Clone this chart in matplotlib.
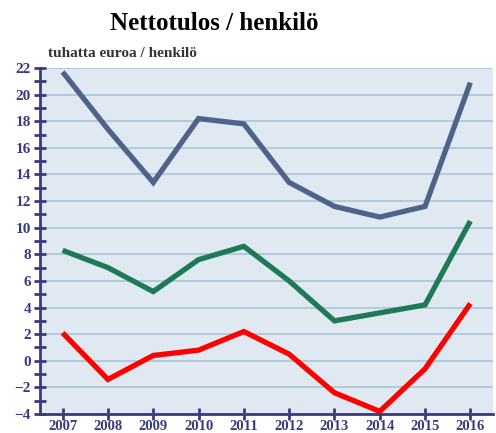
import matplotlib
matplotlib.use("Agg")
import matplotlib.pyplot as plt
from matplotlib.ticker import MultipleLocator

# Nettotulos per henkilö, tuhatta euroa
years = [2007, 2008, 2009, 2010, 2011, 2012, 2013, 2014, 2015, 2016]
series_top = [21.7, 17.4, 13.4, 18.2, 17.8, 13.4, 11.6, 10.8, 11.6, 20.9]
series_mid = [8.3, 7.0, 5.2, 7.6, 8.6, 6.0, 3.0, 3.6, 4.2, 10.5]
series_low = [2.1, -1.4, 0.4, 0.8, 2.2, 0.5, -2.4, -3.8, -0.6, 4.3]

navy = "#3a3a80"

plt.rcParams["font.family"] = ["Liberation Serif", "DejaVu Serif"]

fig = plt.figure(figsize=(4.96, 4.33), dpi=100)
ax = fig.add_axes([0.0806, 0.0438, 0.9134, 0.7992])
ax.set_facecolor("#e0e9f1")

for vals, col in [(series_top, "#4d6389"), (series_mid, "#1d7a55"), (series_low, "#ff0000")]:
    ax.plot(years, vals, color=col, linewidth=3.8, solid_capstyle="butt",
            solid_joinstyle="miter", zorder=3)

ax.set_xlim(2006.5, 2016.5)
ax.set_ylim(-4, 22)
ax.set_xticks(years)
ax.yaxis.set_major_locator(MultipleLocator(2))
ax.yaxis.set_minor_locator(MultipleLocator(1))
ax.grid(axis="y", which="major", color="#a9c5d6", linewidth=1.2, zorder=1)

for s in ["top", "right"]:
    ax.spines[s].set_visible(False)
for s in ["left", "bottom"]:
    ax.spines[s].set_color(navy)
    ax.spines[s].set_linewidth(2)
    ax.spines[s].set_zorder(4)

ax.tick_params(axis="both", which="both", direction="inout", color=navy, width=2,
               labelcolor=navy, labelsize=11)
ax.tick_params(axis="y", which="both", length=9, pad=2)
ax.tick_params(axis="x", which="major", length=9, pad=-0.5, labelsize=10.5)
for lab in ax.get_xticklabels() + ax.get_yticklabels():
    lab.set_fontweight("bold")

fig.text(0.432, 0.945, "Nettotulos / henkilö", ha="center", va="center",
         fontsize=18, fontweight="bold", color="black")
fig.text(0.097, 0.877, "tuhatta euroa / henkilö", ha="left", va="center",
         fontsize=11, fontweight="bold", color="#333333")

fig.savefig("out.png", dpi=100)
